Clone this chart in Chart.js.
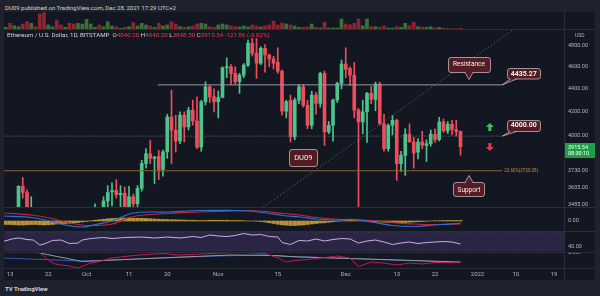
<!DOCTYPE html>
<html>
<head>
<meta charset="utf-8">
<title>ETHUSD 1D</title>
<script src="https://cdn.jsdelivr.net/npm/chart.js@4.4.1/dist/chart.umd.min.js"></script>
<style>
  html, body { margin: 0; padding: 0; background: #1e222d; }
  #wrap { position: relative; width: 600px; height: 296px; overflow: hidden; font-family: Roboto, "Noto Sans", sans-serif; }
  #pane { position: absolute; left: 4px; top: 12px; width: 591px; height: 268px; background: #131722; }
  canvas { position: absolute; left: 4px; }
  .hl { position: absolute; left: 4px; width: 591px; height: 1px; background: #2a2e39; }
  .vl { position: absolute; left: 564px; top: 12px; width: 1px; height: 268px; background: #2a2e39; }
  #head { position: absolute; left: 5px; top: 5px; font-size: 6px; line-height: 6px; color: #d1d4dc; white-space: nowrap; }
  #legend { position: absolute; left: 7px; top: 32px; font-size: 6.2px; line-height: 7px; color: #d1d4dc; white-space: nowrap; }
  #legend .v { color: #f23645; }
  #foot { position: absolute; left: 5px; top: 285px; font-size: 6px; line-height: 7px; color: #d1d4dc; font-weight: bold; }
</style>
</head>
<body>
<div id="wrap">
  <div id="head">DU09 published on TradingView.com, Dec 28, 2021 17:29 UTC+2</div>
  <div id="pane"></div>
  <canvas id="vol" width="560" height="18" style="top:12px"></canvas>
  <canvas id="main" width="591" height="177" style="top:30px"></canvas>
  <canvas id="macd" width="591" height="24" style="top:207px"></canvas>
  <canvas id="rsi" width="591" height="21" style="top:231px"></canvas>
  <canvas id="obv" width="591" height="28" style="top:252px"></canvas>
  <div class="hl" style="top:29px"></div>
  <div class="hl" style="top:207px"></div>
  <div class="hl" style="top:231px"></div>
  <div class="hl" style="top:252px"></div>
  <div class="hl" style="top:268px"></div>
  <div class="vl"></div>
  <div id="legend"></div>
  <div id="foot">TV TradingView</div>
</div>
<script>
const FONT = 'Roboto, "Noto Sans", sans-serif';
const GREEN = '#4cc48c', RED = '#ef4c5c';

// daily candles, Sep 12 .. Dec 28 2021 (day 0 = Sep 13)
const firstDay = -1;
const open  = [3210,3410,3285,3430,3615,3570,3400,3430,3330,2980, 2760,3080,3150,2930,2920,3060,2930,2840,2850,3000,
               3310,3390,3420,3380,3510,3575,3585,3555,3565,3420, 3540,3490,3600,3785,3860,3825,3840,3740,3875,4157,
               4047,3961,4172,4075,4214,4124,3913,4287,4418,4330, 4287,4325,4591,4600,4539,4463,4523,4616,4823,4727,
               4633,4775,4711,4673,4642,4560,4206,4300,3994,4301, 4418,4257,4088,4345,4273,4539,4034,4088,4301,4449,
               4626,4585,4523,4214,4116,4200,4360,4307,4442,4102, 3900,4088,4130,3784,3848,4015,3953,3873,3953,3926,
               3940,4015,3973,4116,4042,4097,4053,4040.20];
const high  = [3450,3460,3440,3620,3680,3590,3540,3440,3340,3100, 3110,3170,3170,2950,3120,3160,3060,2970,3050,3360,
               3460,3490,3430,3540,3620,3640,3665,3620,3610,3615, 3560,3620,3810,3900,3966,3840,3887,3890,4180,4388,
               4172,4200,4200,4240,4301,4330,4300,4463,4430,4400, 4380,4600,4683,4620,4600,4540,4630,4855,4870,4870,
               4790,4810,4720,4700,4780,4570,4300,4345,4320,4440, 4440,4300,4380,4370,4550,4560,4120,4310,4460,4663,
               4780,4600,4640,4230,4300,4370,4420,4460,4460,4180, 4100,4170,4140,3880,4060,4100,3990,3980,4040,3970,
               4050,4060,4155,4140,4120,4130,4130,4040.20];
const low   = [3170,3170,3270,3360,3530,3360,3380,3310,2930,2650, 2740,3040,2740,2800,2750,2920,2830,2790,2840,2970,
               3260,3350,3280,3370,3380,3475,3530,3470,3400,3390, 3410,3450,3580,3750,3785,3635,3665,3690,3825,3785,
               3873,3940,3953,4050,4090,3900,3880,4260,4280,4200, 4150,4320,4500,4440,4440,4360,4500,4600,4700,4494,
               4620,4550,4600,4580,4540,4172,4150,3953,3970,4270, 4240,4060,4060,4180,4240,3926,4020,3960,4280,4400,
               4500,4430,4150,3470,4020,3950,4270,4210,4090,3880, 3880,4010,3659,3726,3696,3950,3750,3820,3900,3800,
               3920,3950,3960,4030,4020,4010,4000,3848.50];
const close = [3410,3285,3430,3615,3570,3400,3430,3330,2980,2760, 3080,3150,2930,2920,3060,2930,2840,2850,3000,3310,
               3390,3420,3380,3510,3570,3585,3555,3565,3420,3540, 3490,3600,3785,3860,3825,3835,3740,3875,4157,4047,
               3961,4172,4075,4214,4124,3913,4287,4418,4330,4287, 4325,4591,4600,4539,4463,4523,4616,4823,4727,4633,
               4775,4711,4673,4633,4560,4206,4287,3994,4301,4418, 4257,4088,4345,4273,4539,4034,4088,4301,4449,4626,
               4576,4523,4214,4116,4200,4360,4307,4442,4102,3900, 4088,4130,3784,3848,4015,3953,3866,3953,3926,3940,
               4015,3973,4116,4042,4097,4053,4037.40,3915.54];
const volume = [27,67,43,33,60,83,67,33,160,173, 50,33,100,50,27,67,60,67,60,107, 60,27,50,33,83,40,33,17,27,33,
                73,40,67,50,40,27,67,40,50,83, 60,33,27,33,40,60,67,60,33,27, 50,60,50,40,33,30,40,30,50,40,
                30,40,50,90,50,70,60,50,40,27, 27,30,60,27,20,77,20,20,20,110, 60,53,67,110,43,110,33,33,27,40,
                20,20,33,27,67,43,77,33,27,27, 33,20,27,17,13,13,13,17];

// time axis
const timeTicks  = [0, 9, 18, 28, 37, 49, 63, 79, 91, 100, 110, 119, 128];
const timeLabels = ['13', '22', 'Oct', '11', '20', 'Nov', '15', 'Dec', '13', '22', '2022', '10', '19'];
const priceTicks = [3485, 3605, 3730, 4000, 4200, 4400, 4600, 4800];

// drawings
const resistance = 4435.27, supportLevel = 4000, fibLevel = 3730.38;
const resDays = [34.8, 115.8];
const levelDays = [-2, 115.8];
const trendDays = [59.5, 119.3];
const trendPrices = [3465, 4985];
const noteTexts = ['Resistance', resistance.toFixed(2), supportLevel.toFixed(2), 'Support', 'DU09'];
const noteDays = [108, 120.9, 120.9, 108, 69];
const notePrices = [4624, 4540, 4089, 3592, 3832];
const arrowDays = [112.9, 112.9];
const arrowPrices = [4074, 3913];
const countdown = '08:30:10';

// MACD
const macdDays = [-1.4, 5, 9.4, 13, 17, 19.5, 24, 29, 37, 44.7, 52.5, 56.5, 60.5, 64.2, 68.2, 72, 77, 81, 85, 90, 95, 100, 106];
const macdLine = [100, 70, 0, -80, -120, -80, 0, 160, 180, 210, 210, 200, 160, 110, 80, 40, 20, 30, -20, -90, -110, -80, -45];
const signalLine = [160, 120, 60, -20, -80, -90, -60, 90, 150, 180, 200, 205, 190, 150, 120, 70, 35, 25, 10, -30, -60, -70, -60];
const macdHist = [-70,-70,-75,-80,-80,-75,-70,-70,-75,-80,-75,
                  -70,-60,-55,-50,-45,-40,-30,-20,-10,5, 15,25,35,45,50,55,55,60,60,55,
                  55,55,50,45,40,35,30,30,25,25, 20,20,15,15,10,10,10,15,15,15,
                  15,15,10,10,10,5,0,0,-5,-10, -20,-35,-50,-65,-75,-85,-90,-90,-85,-80,
                  -70,-60,-50,-40,-35,-25,-15,-5,5,10, 15,10,5,0,-5,-10,-15,-20,-25,-30,
                  -35,-35,-35,-30,-25,-20,-15,-10,-5,0, 5,5,10,10,10,10,10];

// RSI
const rsiDays = [-1.4,0.5,2,4,5.5,7,8,10,12,14,16,17,19,22,24,27,31,34,37,40,43,45,47,49,51,53,55,57,59,61,
                 63,64,66,68,70,72,74,76,78,80,82,84,86,88,90,92,94,96,98,100,102,104,106];
const rsiVals = [51,55.7,58,54.6,53.5,42.8,45,52.5,53.5,46,47.1,53.5,56.7,58.9,56.7,58.9,59.9,57.8,59.9,57.8,
                 61,58.9,64.2,62.1,61,63.2,67.4,64.2,65.3,61,59.9,48.2,43.9,52.5,51.4,55.7,51.4,54.6,56.7,55.7,
                 47.1,51.4,53.5,49.3,43.9,47.1,49.3,46,48.2,49.3,50.3,49.3,45];

// lower pane
const blueDays = [-1.4, 17, 30, 48, 60, 66, 70.6, 80, 90, 100, 106];
const blueVals = [10, 7, 9, 12, 13, 11.5, 11, 9.5, 8, 6.5, 5.5];
const greyDays = [7, 17, 35, 52, 62, 68, 80, 95, 106];
const greyVals = [15, 6.5, 10, 13, 12.5, 11, 9.5, 7.5, 6];
const redDays = [2.4,7,9,10.6,12,14,16,19,20.5,24,28,32,36,40,45,50,55,60,63,65,67,70,74,77,80,82,85,88,91,94,97,100,103,106];
const redVals = [16.3,15,8,4,3,2,0,5,6,10,12,13.5,14.5,13,14,15,15.5,14.5,10,6,7.5,8.5,10.5,12,10,1.5,6,5,3,5,4,5.5,5.5,5.3];

const X_MIN = -1.412, X_MAX = 130.353;
const days = open.map((_, i) => firstDay + i);
const up = close.map((c, i) => c >= open[i]);
const xy = (xs, ys) => xs.map((x, i) => ({ x, y: ys[i] }));

const common = {
  responsive: false, maintainAspectRatio: false, animation: false, devicePixelRatio: 1, events: [],
  layout: { padding: 0 },
  plugins: { legend: { display: false }, tooltip: { enabled: false } }
};
function xAxis(display) {
  return {
    type: 'linear', min: X_MIN, max: X_MAX, offset: false, bounds: 'data', display,
    grid: { display: false, drawTicks: false }, border: { display: false },
    afterBuildTicks: s => { s.ticks = timeTicks.map(v => ({ value: v })); },
    afterFit: s => { if (display) s.height = 12; s.paddingLeft = 0; s.paddingRight = 0; },
    ticks: { color: '#b2b5be', font: { size: 6, family: FONT }, padding: 3, autoSkip: false, maxRotation: 0,
             callback: (v, i) => timeLabels[i] }
  };
}
function yAxis(type, min, max, ticks, fmt) {
  return {
    type, min, max, position: 'right', bounds: 'data',
    grid: { display: false, drawTicks: false }, border: { display: false },
    afterBuildTicks: s => { s.ticks = ticks.map(v => ({ value: v })); },
    afterFit: s => { s.width = 31; s.paddingTop = 0; s.paddingBottom = 0; },
    ticks: { color: '#b2b5be', font: { size: 5.5, family: FONT }, padding: 4, autoSkip: false, callback: fmt }
  };
}
const flatLine = (data, color, dash, width) => ({
  type: 'line', data, borderColor: color, borderWidth: width || 1, borderDash: dash || [],
  pointRadius: 0, tension: 0, fill: false, order: 0
});

// legend from the last candle
const L = close.length - 1;
const chg = close[L] - close[L - 1];
document.getElementById('legend').innerHTML =
  'Ethereum / U.S. Dollar, 1D, BITSTAMP&nbsp; O<span class="v">' + open[L].toFixed(2) +
  '</span> H<span class="v">' + high[L].toFixed(2) + '</span> L<span class="v">' + low[L].toFixed(2) +
  '</span> C<span class="v">' + close[L].toFixed(2) + '</span> <span class="v">' + chg.toFixed(2) +
  ' (' + (chg / close[L - 1] * 100).toFixed(2) + '%)</span>';

// --volume
new Chart(document.getElementById('vol'), {
  type: 'bar',
  data: { datasets: [{ data: xy(days, volume), backgroundColor: up.map(u => u ? '#3b6f37' : '#8d2431'), barThickness: 3 }] },
  options: { ...common, scales: { x: xAxis(false), y: { display: false, min: 0, max: 180 } } }
});

// --price pane
function drawArrow(ctx, cx, cy, dir) {
  const s = dir === 'up' ? -1 : 1;
  ctx.fillStyle = dir === 'up' ? '#3fbf5a' : '#e8364a';
  ctx.beginPath();
  ctx.moveTo(cx, cy + 4 * s);
  ctx.lineTo(cx - 4, cy);
  ctx.lineTo(cx - 1.5, cy);
  ctx.lineTo(cx - 1.5, cy - 4 * s);
  ctx.lineTo(cx + 1.5, cy - 4 * s);
  ctx.lineTo(cx + 1.5, cy);
  ctx.lineTo(cx + 4, cy);
  ctx.closePath();
  ctx.fill();
}
function drawNote(ctx, cx, cy, text, look, tx, ty) {
  ctx.font = (look.bold ? 'bold ' : '') + look.size + 'px ' + FONT;
  const w = Math.round(ctx.measureText(text).width + look.pad), h = look.h;
  const l = Math.round(cx - w / 2) + 0.5, t = Math.round(cy - h / 2) + 0.5;
  ctx.lineWidth = 1;
  ctx.fillStyle = '#531b23';
  ctx.strokeStyle = 'rgba(216,200,200,0.7)';
  ctx.beginPath(); ctx.roundRect(l, t, w, h, 2.5); ctx.fill(); ctx.stroke();
  let tail = null;
  if (look.tail === 'down') tail = [[cx - 4, t + h], [cx, t + h + 7], [cx + 4, t + h], -1];
  if (look.tail === 'up') tail = [[cx - 4, t], [cx, t - 7], [cx + 4, t], 1];
  if (look.tail === 'left') tail = [[l + 3, t + h], [tx, ty], [l + 9, t + h], -1];
  if (tail) {
    const k = tail[3];
    ctx.beginPath();
    ctx.moveTo(tail[0][0], tail[0][1] + k); ctx.lineTo(tail[1][0], tail[1][1]); ctx.lineTo(tail[2][0], tail[2][1] + k);
    ctx.closePath(); ctx.fill();
    ctx.beginPath();
    ctx.moveTo(tail[0][0], tail[0][1]); ctx.lineTo(tail[1][0], tail[1][1]); ctx.lineTo(tail[2][0], tail[2][1]);
    ctx.stroke();
  }
  ctx.fillStyle = '#f2eeee';
  ctx.textAlign = 'center'; ctx.textBaseline = 'middle';
  ctx.fillText(text, cx, cy + 0.5);
}
const drawings = {
  id: 'drawings',
  afterDatasetsDraw(chart) {
    const { ctx, chartArea: a, scales: { x, y } } = chart;
    ctx.save();
    ctx.beginPath(); ctx.rect(a.left, a.top, a.width, a.height); ctx.clip();
    ctx.font = '4.5px ' + FONT; ctx.fillStyle = '#c98a3a';
    ctx.textAlign = 'left'; ctx.textBaseline = 'middle';
    ctx.fillText('23.60%(' + fibLevel.toFixed(2) + ')', x.getPixelForValue(levelDays[1]) + 2, y.getPixelForValue(fibLevel));
    drawArrow(ctx, x.getPixelForValue(arrowDays[0]), y.getPixelForValue(arrowPrices[0]), 'up');
    drawArrow(ctx, x.getPixelForValue(arrowDays[1]), y.getPixelForValue(arrowPrices[1]), 'down');
    const looks = [
      { size: 6.5, h: 15, pad: 10, tail: 'down' },
      { size: 7, h: 10.5, pad: 7, tail: 'left', bold: true, to: resistance },
      { size: 7, h: 11, pad: 7, tail: 'left', bold: true, to: supportLevel },
      { size: 6.5, h: 14, pad: 8, tail: 'up' },
      { size: 7.5, h: 17, pad: 10, tail: null }
    ];
    noteTexts.forEach((t, i) => {
      const lk = looks[i];
      drawNote(ctx, x.getPixelForValue(noteDays[i]), y.getPixelForValue(notePrices[i]), t, lk,
               x.getPixelForValue(levelDays[1]), lk.to ? y.getPixelForValue(lk.to) : 0);
    });
    ctx.restore();
  },
  afterDraw(chart) {
    const { ctx, chartArea: a, scales: { y } } = chart;
    ctx.save();
    ctx.font = '5px ' + FONT; ctx.fillStyle = '#b2b5be';
    ctx.textAlign = 'left'; ctx.textBaseline = 'middle';
    ctx.fillText('USD', a.right + 11, a.top + 6);
    const py = Math.round(y.getPixelForValue(close[L]));
    ctx.fillStyle = '#1f9d49';
    ctx.fillRect(a.right, py - 4, chart.width - a.right, 15);
    ctx.fillStyle = '#ffffff'; ctx.font = '5.5px ' + FONT;
    ctx.fillText(close[L].toFixed(2), a.right + 4, py + 0.5);
    ctx.fillText(countdown, a.right + 4, py + 7);
    ctx.restore();
  }
};
new Chart(document.getElementById('main'), {
  type: 'bar',
  data: { datasets: [
    flatLine(xy(resDays, [resistance, resistance]), '#9598a1'),
    flatLine(xy(levelDays, [supportLevel, supportLevel]), '#787b86', [1, 2]),
    flatLine(xy(levelDays, [fibLevel, fibLevel]), '#8a6233'),
    flatLine(xy(trendDays, trendPrices), '#6f7380', [1, 2.5]),
    { data: days.map((d, i) => ({ x: d, y: [open[i], close[i]] })), backgroundColor: up.map(u => u ? GREEN : RED),
      barThickness: 3, minBarLength: 1, grouped: false, order: 1 },
    { data: days.map((d, i) => ({ x: d, y: [low[i], high[i]] })), backgroundColor: up.map(u => u ? GREEN : RED),
      barThickness: 1, grouped: false, order: 2 }
  ] },
  options: { ...common, scales: {
    x: xAxis(false),
    y: yAxis('logarithmic', 3467.5, 4954, priceTicks, v => Number(v).toFixed(2))
  } },
  plugins: [drawings]
});

// --MACD
new Chart(document.getElementById('macd'), {
  type: 'bar',
  data: { datasets: [
    { ...flatLine(xy(macdDays, macdLine), '#2e6fd6', [], 1.2), tension: 0.35 },
    { ...flatLine(xy(macdDays, signalLine), '#c2253a', [], 1.2), tension: 0.35 },
    { data: xy(days, macdHist), backgroundColor: 'rgba(226,180,58,0.8)', barThickness: 3.5, order: 1 }
  ] },
  options: { ...common, scales: { x: xAxis(false), y: yAxis('linear', -200, 280, [0], v => Number(v).toFixed(2)) } }
});

// --RSI
new Chart(document.getElementById('rsi'), {
  type: 'line',
  data: { datasets: [
    flatLine(xy(rsiDays, rsiVals), '#c3b3e6'),
    { ...flatLine(xy([X_MIN - 1, X_MAX + 1], [70, 70]), 'rgba(120,123,134,0.45)', [1, 2]),
      fill: '+1', backgroundColor: 'rgba(126,87,194,0.22)', order: 1 },
    { ...flatLine(xy([X_MIN - 1, X_MAX + 1], [30, 30]), 'rgba(120,123,134,0.45)', [1, 2]), order: 1 }
  ] },
  options: { ...common, scales: { x: xAxis(false), y: yAxis('linear', 27.9, 72.8, [40], v => Number(v).toFixed(2)) } }
});

// --lower pane with time axis
new Chart(document.getElementById('obv'), {
  type: 'line',
  data: { datasets: [
    flatLine(xy(redDays, redVals), '#c2185b'),
    flatLine(xy(greyDays, greyVals), '#9598a1'),
    flatLine(xy(blueDays, blueVals), '#3656b8')
  ] },
  options: { ...common, scales: { x: xAxis(true), y: yAxis('linear', 0, 16, [15.3], () => '2.6M') } }
});
</script>
</body>
</html>
